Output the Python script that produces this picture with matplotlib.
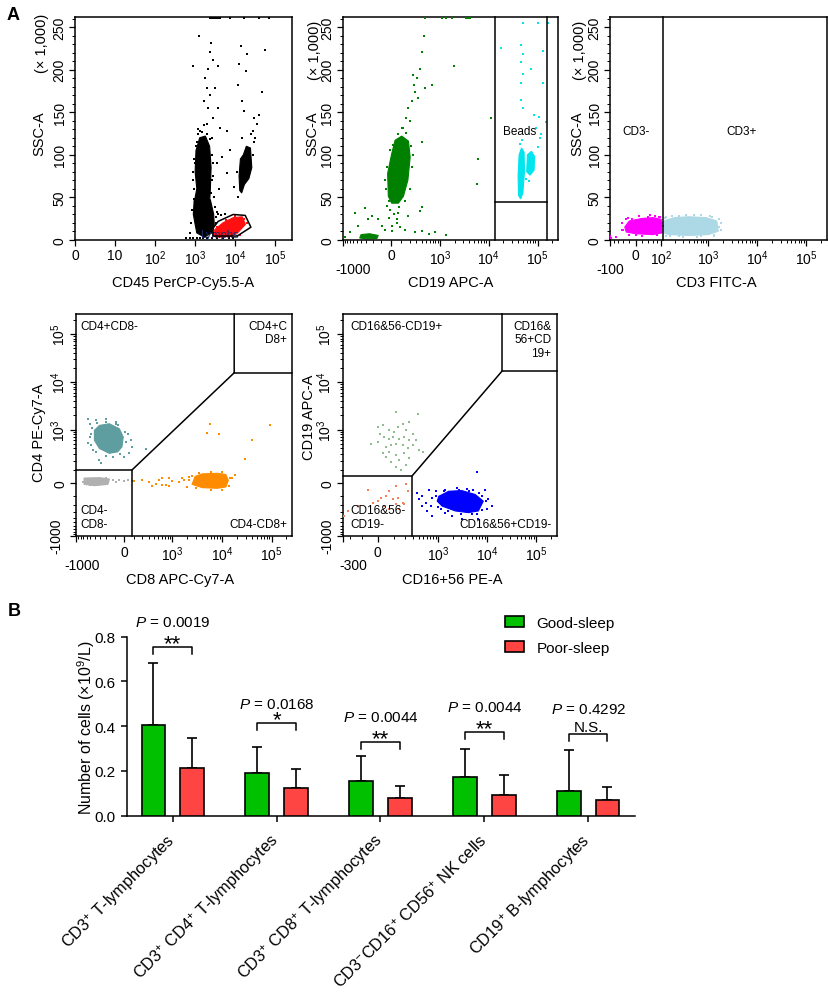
import numpy as np
import matplotlib
matplotlib.use("Agg")
import matplotlib.pyplot as plt
from matplotlib.patches import Patch

plt.rcParams['font.family'] = ['Liberation Sans', 'DejaVu Sans']
plt.rcParams['mathtext.fontset'] = 'custom'
plt.rcParams['mathtext.rm'] = 'Liberation Sans'
plt.rcParams['mathtext.it'] = 'Liberation Sans:italic'
plt.rcParams['mathtext.bf'] = 'Liberation Sans:bold'

FULL = 262144

# ---------------- panel A data ----------------
# panel 1: CD45 vs SSC (SSC in thousands)
p1_core_x = [1100, 1000, 1050, 1300, 1800, 2300, 2500, 2400, 2300, 950]
p1_core_y = [60, 80, 105, 120, 122, 110, 85, 60, 44, 44]
p1_low_x = [950, 900, 1000, 1100, 1700, 2600, 3000, 2900, 2400]
p1_low_y = [47, 30, 18, 8, 3, 8, 18, 30, 47]
p1_col_x = [13000, 12500, 13500, 16000, 19000, 24000, 26000, 22000, 17000, 14500]
p1_col_y = [58, 75, 95, 100, 110, 108, 85, 72, 65, 55]
p1_pts_x = [1260, 870, 2290, 2460, 2150, 2870, 3830, 1780, 1960, 2370, 3160, 1620, 2150, 3830,
            2870, 1960, 4220, 6190, 1330, 7500, 6190, 9100, 4640, 12100, 13800, 19500, 18500,
            11500, 14700, 16200, 56000, 48000, 28700, 34800, 31600, 38300, 27700,
            900, 950, 2700, 2800, 2600, 1200, 1700, 3500, 4000, 3000, 12000, 11000, 28000,
            30000, 25000, 15000,
            950, 1000, 1050, 1200, 1500, 2000, 2600, 2700, 2500, 950, 1100, 2400, 900, 2800,
            850, 800, 1300, 1400, 1500, 1600, 3300, 3800, 4500, 5500, 3200, 3500, 750, 3400,
            600, 750, 900, 1100, 1300, 1600, 2000, 2600, 3500, 5000, 7000, 9000,
            2300, 2600, 2900, 3300, 3700, 4200, 7500, 16200, 38300, 68000]
p1_pts_y = [240, 205, 221, 232, 201, 211, 205, 190, 178, 170, 178, 163, 155, 155,
            143, 136, 132, 128, 128, 105, 78, 62, 97, 207, 228, 219, 198,
            182, 163, 151, 223, 174, 143, 136, 120, 147, 128,
            70, 95, 100, 75, 120, 130, 135, 90, 60, 50, 50, 80, 100,
            115, 125, 120,
            60, 90, 110, 125, 127, 125, 100, 70, 55, 48, 115, 118, 80, 90,
            35, 20, 50, 52, 49, 51, 27, 30, 29, 30, 38, 33, 8, 20,
            1.5, 1.5, 1.5, 1.5, 1.5, 1.5, 1.5, 1.5, 1.5, 1.5, 1.5, 1.5,
            261, 261, 261, 261, 261, 261, 261, 261, 261, 261]
p1_red_x = [3000, 3100, 5000, 9000, 15000, 18000, 12000, 8000, 4000]
p1_red_y = [4, 12, 20, 26, 27, 18, 9, 4, 3]
p1_redpts_x = [3500, 6000, 10000, 17000, 13000, 2900, 20000]
p1_redpts_y = [15, 23, 28, 24, 6, 8, 20]
p1_gate_x = [2800, 3760, 8900, 17800, 24700, 11200, 2800, 2800]
p1_gate_y = [13.5, 21.6, 29.7, 28.6, 14.7, 4.3, 4.3, 13.5]

# panel 2: CD19 vs SSC
p2_core_x = [-29, -36, 3, 36, 104, 183, 205, 175, 122, 69, 3]
p2_core_y = [51, 78, 101, 117, 122, 116, 97, 70, 51, 43, 43]
p2_low_x = [-430, -400, -250, -134, -150, -300]
p2_low_y = [2, 6, 7, 5, 1.5, 1]
p2_pts_x = [443, 406, 371, 309, 254, 281, 229, 183, 150, 122, 337, 483, 239, 205, 680, 104,
            1980, 11000, 6160, 5670, 418, 406,
            -988, -555, -327, -219, -134, -97, -62, -270, -467, -710, -910,
            141, 281, 406, 573, 795, 1300, 371, 183, 69, 52, 3,
            -10, 30, 50, -20, 10, 70, -40, -60, 90,
            -50, -45, -10, 20, 60, 150, 220, 230, 200, 140, -20, 250, -60,
            483, 1100, 1300, 1780, 3400, 3700, 4000, 4200]
p2_pts_y = [240, 221, 201, 190, 182, 174, 163, 155, 143.5, 132, 167, 178, 194, 140, 182, 132,
            205, 143.5, 95, 66, 115, 39,
            30, 32, 37, 28, 24, 16, 12, 24, 16, 8.5, 2.7,
            12, 8.5, 10, 6.6, 8.5, 5.4, 33.6, 27.8, 31.6, 24, 16,
            35, 30, 20, 25, 10, 38, 40, 12, 15,
            60, 85, 105, 112, 124, 126, 110, 85, 60, 45, 45, 100, 70,
            261, 261, 261, 261, 261, 261, 261, 261]
p2_beadA_x = [41000, 40000, 42000, 47000, 53000, 54000, 50000, 45000]
p2_beadA_y = [52, 75, 100, 108, 103, 80, 55, 48]
p2_beadB_x = [60000, 62000, 75000, 87000, 85000, 70000]
p2_beadB_y = [80, 100, 104, 98, 82, 76]
p2_bpts_x = [17700, 45900, 49600, 45900, 73900, 132000, 45900, 49600, 132000, 45900, 49600,
             86500, 106000, 93700, 118000, 150000, 110000, 43700, 48100, 101000, 86500,
             162000, 101000, 49600, 58000, 68000]
p2_bpts_y = [226, 229, 219, 209, 201, 222, 184, 195, 184, 165, 155,
             147, 145, 132, 124, 138, 120, 113, 117, 109, 94,
             255, 255, 255, 71, 69]

# panel 3: CD3 vs SSC
p3_neg_x = [-35, -20, 20, 60, 100, 105, 60, 0, -30]
p3_neg_y = [15, 22, 25, 26, 24, 8, 6, 7, 9]
p3_npts_x = [-101, -95, -68, -40, -45, -25, 70, 90, 105, 40, 0, -10, 80,
             -45, -30, 10, 50, 95, 108, 80, 20, -20]
p3_npts_y = [4.6, 2, 2.7, 12, 20, 26, 28, 27, 20, 27, 5, 24, 5,
             12, 24, 28, 28.5, 27, 16, 5, 4.5, 6]
p3_pos_x = [115, 115, 200, 400, 900, 1500, 1600, 1000, 400, 150]
p3_pos_y = [8, 22, 26, 27, 26, 22, 10, 6, 5, 6]
p3_ppts_x = [130, 160, 250, 300, 500, 700, 1100, 1300, 1700, 1800, 250, 600,
             120, 180, 350, 700, 1200, 1700, 1800, 1300, 700, 300, 130]
p3_ppts_y = [27, 4, 28, 3, 29, 28.5, 28, 4, 15, 20, 4, 3.5,
             26, 28, 29, 28.5, 27, 24, 12, 5, 4, 3.5, 4]

# panel 4: CD8 vs CD4
p4_cd4_x = [-404, -307, -162, -50, -10, -23, -66, -162, -307, -404]
p4_cd4_y = [967, 1229, 1333, 1049, 700, 426, 330, 304, 392, 595]
p4_cd4pts_x = [-566, -518, -367, -205, -85, 33, 66, 77, 50, 0, -117, -307, -279, -518, -566,
               -440, 254, -85,
               -480, -450, -350, -200, -60, 10, 20, -40, -200, -380, -470]
p4_cd4pts_y = [1694, 1333, 1561, 1694, 1440, 826, 595, 426, 304, 253, 253, 209, 170, 700, 507,
               361, 392, 1333,
               800, 1100, 1400, 1450, 1250, 900, 550, 300, 260, 330, 480]
p4_dn_x = [-680, -300, -160, -180, -400, -680]
p4_dn_y = [37, 40, 30, -10, -20, -10]
p4_dnpts_x = [-720, -600, -500, -200, -120, -80, -50, 0, 40, 80]
p4_dnpts_y = [10, 30, -15, 35, 20, 10, 25, 15, 20, 12]
p4_cd8_x = [2900, 4000, 8000, 12000, 13500, 12000, 8000, 4000, 2500]
p4_cd8_y = [50, 70, 75, 65, 20, -30, -40, -35, -10]
p4_cd8pts_x = [103, 205, 307, 440, 518, 612, 720, 845, 987, 1350, 1704, 367, 612, 845,
               5845, 5015, 8580, 29300, 39800, 92600, 15800, 18500, 13600, 2000, 2200, 1600,
               2500, 3500, 6000, 10000, 14500, 14000, 10000, 6000, 3000, 2200]
p4_cd8pts_y = [12, 24, 5, -5, 24, 37, -12, -25, 12, 5, 24, -25, -12, 37,
               1333, 848, 798, 217, 615, 1229, 37, 62, -25, -30, 45, 40,
               55, 80, 90, 85, 40, -20, -50, -55, -40, 20]

# panel 5: CD16+56 vs CD19
p5_b_x = [115, 376, 1, 28, 68, 129, 173, 248, 207, 296, -37, 1, 38, 68, 91, 142, 189, 248, 48,
          80, 115, 173, 296, 414, 28, 68, 115, 189, 142, 248, 115, 157, 80, 350, 484, 10, 103,
          228, 48, 207]
p5_b_y = [2317, 2150, 1133, 1230, 970, 1133, 1333, 1440, 970, 810, 500, 549, 700, 645, 700,
          645, 700, 595, 426, 465, 500, 465, 465, 360, 305, 330, 280, 305, 205, 228, 135, 105,
          189, 595, 330, 810, 891, 395, 253, 150]
p5_dn_x = [207, 228, 115, 68, 48, 91, 129, 173, 19, 1, 38, 68, 142, 189, -127, -227, -285,
           -28, 115, -57]
p5_dn_y = [-7, -63, -25, -63, -106, -136, -121, -170, -121, -153, -210, -253, -253, -190,
           -210, -275, -364, -170, -190, -50]
p5_nk_x = [1041, 1664, 3077, 5730, 8400, 6670, 4200, 2266, 1218, 966]
p5_nk_y = [-106, -63, -58, -90, -153, -277, -304, -277, -210, -153]
p5_nkpts_x = [375, 413, 475, 571, 653, 707, 763, 602, 895, 1128, 1422, 1944, 3077, 6170, 6670,
              7780, 10600, 12360, 9790, 6170, 4200, 2640, 1422, 763, 475, 9060, 5300,
              900, 1300, 2500, 4000, 7000, 9500, 8000, 5000, 3000, 1600, 1000]
p5_nkpts_y = [-76, -136, -106, -170, -50, -210, -121, -277, -63, -253, -304, -364, -429, -334,
              -429, -106, -136, -210, -253, 90, -63, -50, -50, -364, -210, -50, -50,
              -100, -60, -40, -45, -80, -150, -260, -330, -320, -280, -220]

# ---------------- panel B data ----------------
cell_types = ['CD3$^{+}$ T-lymphocytes',
              'CD3$^{+}$ CD4$^{+}$ T-lymphocytes',
              'CD3$^{+}$ CD8$^{+}$ T-lymphocytes',
              'CD3$^{-}$CD16$^{+}$ CD56$^{+}$ NK cells',
              'CD19$^{+}$ B-lymphocytes']
good_mean = [0.407, 0.191, 0.156, 0.172, 0.109]
good_sd = [0.276, 0.115, 0.112, 0.126, 0.183]
poor_mean = [0.215, 0.122, 0.078, 0.092, 0.069]
poor_sd = [0.132, 0.085, 0.056, 0.090, 0.061]
p_values = ['0.0019', '0.0168', '0.0044', '0.0044', '0.4292']
signif = ['**', '*', '**', '**', 'N.S.']
bracket_y = [0.752, 0.414, 0.328, 0.373, 0.364]


def asinh_scale(c):
    ln10 = np.log(10)

    def fwd(v):
        return np.arcsinh(np.asarray(v, float) / c) / ln10

    def inv(v):
        return c * np.sinh(np.asarray(v, float) * ln10)
    return fwd, inv


def log_minor(neg_lo):
    ticks = [-k for k in range(100, neg_lo + 1, 100)] + [0]
    for dec in [100, 1000, 10000]:
        ticks += [k * dec for k in range(1, 10)]
    ticks += [100000, 200000]
    return ticks


def style_flow(ax):
    for sp in ax.spines.values():
        sp.set_linewidth(1.1)
    ax.tick_params(which='major', direction='out', length=4, width=0.9, labelsize=10, pad=2)
    ax.tick_params(which='minor', direction='out', length=2.3, width=0.7)


def dots(ax, x, y, col, s=3, z=3):
    ax.scatter(x, y, s=s, marker='s', c=col, linewidths=0, zorder=z)


def blob(ax, x, y, col, z=2):
    ax.fill(x, y, color=col, lw=0.8, zorder=z)


def low_label_x(ax, text, xa, ya=-0.132):
    # the negative end label of a flow axis sits one line lower than the others
    ax.text(xa, ya, text, transform=ax.transAxes, ha='center', va='center', fontsize=10)


def low_label_y(ax, text, xa, ya=0.004):
    ax.text(xa, ya, text, transform=ax.transAxes, ha='center', va='center', fontsize=10,
            rotation=90)


def top_row_y(ax, lab_x, cap_y):
    ax.set_ylim(0, FULL / 1000)
    ax.set_yticks([0, 50, 100, 150, 200, 250], ['0', '50', '100', '150', '200', '250'],
                  rotation=90, va='center')
    ax.set_yticks(np.arange(10, 262, 10), minor=True)
    ax.set_ylabel('SSC-A', fontsize=10.5)
    ax.yaxis.set_label_coords(lab_x, 0.48)
    ax.text(lab_x - 0.02, cap_y, '(× 1,000)', transform=ax.transAxes, rotation=90,
            ha='center', va='center', fontsize=10.5)


def gate(ax, x, y):
    ax.plot(x, y, color='black', lw=1.1, zorder=4, clip_on=False)


fig = plt.figure(figsize=(8.29, 9.95), dpi=100)
W, H = 829, 995


def rect(l, r, t, b):
    return [l / W, 1 - b / H, (r - l) / W, (b - t) / H]


# ---- panel 1 ----
ax1 = fig.add_axes(rect(75, 292, 18, 240.7))
style_flow(ax1)
ax1.set_xscale('log')
ax1.set_xlim(1, FULL)
ax1.set_xticks([1, 10, 100, 1e3, 1e4, 1e5], ['0', '10', '10$^2$', '10$^3$', '10$^4$', '10$^5$'])
top_row_y(ax1, -0.13, 0.886)
blob(ax1, p1_core_x, p1_core_y, 'black')
blob(ax1, p1_low_x, p1_low_y, 'black')
blob(ax1, p1_col_x, p1_col_y, 'black')
dots(ax1, p1_pts_x, p1_pts_y, 'black')
blob(ax1, p1_red_x, p1_red_y, '#ff1010', z=3)
dots(ax1, p1_redpts_x, p1_redpts_y, '#ff1010')
ax1.text(12500, 7, 'Lymphs', ha='right', va='center', fontsize=8, color='#1a2a6a', zorder=3.5)
gate(ax1, p1_gate_x, p1_gate_y)
ax1.set_xlabel('CD45 PerCP-Cy5.5-A', fontsize=10.5)
ax1.xaxis.set_label_coords(0.5, -0.16)

# ---- panel 2 ----
ax2 = fig.add_axes(rect(342.7, 558, 18, 240.7))
style_flow(ax2)
ax2.set_xscale('function', functions=asinh_scale(204))
ax2.set_xlim(-1000, FULL)
ax2.set_xticks([-1000, 0, 1e3, 1e4, 1e5], ['', '0', '10$^3$', '10$^4$', '10$^5$'])
ax2.set_xticks(log_minor(900), minor=True)
low_label_x(ax2, '-1000', 0.048)
top_row_y(ax2, -0.11, 0.856)
blob(ax2, p2_core_x, p2_core_y, '#008000')
blob(ax2, p2_low_x, p2_low_y, '#008000')
dots(ax2, p2_pts_x, p2_pts_y, '#008000')
blob(ax2, p2_beadA_x, p2_beadA_y, '#00e5ee')
blob(ax2, p2_beadB_x, p2_beadB_y, '#00e5ee')
dots(ax2, p2_bpts_x, p2_bpts_y, '#00e5ee')
gate(ax2, [13400, 13400], [0, FULL / 1000])
gate(ax2, [158000, 158000], [0, FULL / 1000])
gate(ax2, [13400, 158000], [44, 44])
ax2.text(42400, 128, 'Beads', ha='center', va='center', fontsize=8.5)
ax2.set_xlabel('CD19 APC-A', fontsize=10.5)
ax2.xaxis.set_label_coords(0.5, -0.16)

# ---- panel 3 ----
ax3 = fig.add_axes(rect(610, 826.7, 18, 240.7))
style_flow(ax3)
ax3.set_xscale('function', functions=asinh_scale(66))
ax3.set_xlim(-100, FULL)
ax3.set_xticks([-100, 0, 100, 1e3, 1e4, 1e5], ['', '0', '10$^2$', '10$^3$', '10$^4$', '10$^5$'])
ax3.set_xticks([-80, -60, -40, -20, 20, 40, 60, 80] + log_minor(0)[1:], minor=True)
low_label_x(ax3, '-100', 0.0)
top_row_y(ax3, -0.12, 0.856)
blob(ax3, p3_neg_x, p3_neg_y, '#ff00ff')
dots(ax3, p3_npts_x, p3_npts_y, '#ff00ff')
blob(ax3, p3_pos_x, p3_pos_y, '#add8e6')
dots(ax3, p3_ppts_x, p3_ppts_y, '#add8e6')
gate(ax3, [110, 110], [0, FULL / 1000])
ax3.text(0, 128, 'CD3-', ha='center', va='center', fontsize=8.5)
ax3.text(4740, 128, 'CD3+', ha='center', va='center', fontsize=8.5)
ax3.set_xlabel('CD3 FITC-A', fontsize=10.5)
ax3.xaxis.set_label_coords(0.49, -0.16)


def bottom_row_axes(ax, cx, x_lo):
    style_flow(ax)
    ax.set_xscale('function', functions=asinh_scale(cx))
    ax.set_yscale('function', functions=asinh_scale(155))
    ax.set_xlim(x_lo, FULL)
    ax.set_ylim(-1000, FULL)
    ax.set_xticks([x_lo, 0, 1e3, 1e4, 1e5], ['', '0', '10$^3$', '10$^4$', '10$^5$'])
    ax.set_xticks(log_minor(-x_lo - 100 if x_lo < -100 else 0), minor=True)
    ax.set_yticks([-1000, 0, 1e3, 1e4, 1e5], ['', '0', '10$^3$', '10$^4$', '10$^5$'],
                  rotation=90, va='center')
    ax.set_yticks(log_minor(900), minor=True)


# ---- panel 4 ----
ax4 = fig.add_axes(rect(76, 292.3, 315, 537.3))
bottom_row_axes(ax4, 216, -1000)
low_label_x(ax4, '-1000', 0.028, -0.129)
low_label_y(ax4, '-1000', -0.092)
blob(ax4, p4_cd4_x, p4_cd4_y, '#5f9ea0')
dots(ax4, p4_cd4pts_x, p4_cd4pts_y, '#5f9ea0')
blob(ax4, p4_dn_x, p4_dn_y, '#b0b0b0')
dots(ax4, p4_dnpts_x, p4_dnpts_y, '#b0b0b0')
blob(ax4, p4_cd8_x, p4_cd8_y, '#ff8c00')
dots(ax4, p4_cd8pts_x, p4_cd8pts_y, '#ff8c00')
gate(ax4, [-1000, 80, 80], [104, 104, -1000])
gate(ax4, [80, 17700, 17700], [104, 15500, FULL])
gate(ax4, [17700, FULL], [15500, 15500])
ax4.text(0.018, 0.975, 'CD4+CD8-', transform=ax4.transAxes, ha='left', va='top', fontsize=8.5)
ax4.text(0.975, 0.975, 'CD4+C\nD8+', transform=ax4.transAxes, ha='right', va='top',
         fontsize=8.5, multialignment='right')
ax4.text(0.018, 0.03, 'CD4-\nCD8-', transform=ax4.transAxes, ha='left', va='bottom', fontsize=8.5)
ax4.text(0.975, 0.03, 'CD4-CD8+', transform=ax4.transAxes, ha='right', va='bottom', fontsize=8.5)
ax4.set_xlabel('CD8 APC-Cy7-A', fontsize=10.5)
ax4.xaxis.set_label_coords(0.48, -0.16)
ax4.set_ylabel('CD4 PE-Cy7-A', fontsize=10.5)
ax4.yaxis.set_label_coords(-0.14, 0.47)

# ---- panel 5 ----
ax5 = fig.add_axes(rect(342.7, 556.7, 315, 537.3))
bottom_row_axes(ax5, 120, -300)
low_label_x(ax5, '-300', 0.051, -0.13)
low_label_y(ax5, '-1000', -0.07)
dots(ax5, p5_b_x, p5_b_y, '#8fbc8f')
dots(ax5, p5_dn_x, p5_dn_y, '#f4805a')
blob(ax5, p5_nk_x, p5_nk_y, '#0000ff')
dots(ax5, p5_nkpts_x, p5_nkpts_y, '#0000ff')
gate(ax5, [-300, 292, 292], [57, 57, -1000])
gate(ax5, [292, 20200, 20200], [57, 16800, FULL])
gate(ax5, [20200, FULL], [16800, 16800])
ax5.text(0.035, 0.975, 'CD16&56-CD19+', transform=ax5.transAxes, ha='left', va='top', fontsize=8.5)
ax5.text(0.975, 0.975, 'CD16&\n56+CD\n19+', transform=ax5.transAxes, ha='right', va='top',
         fontsize=8.5, multialignment='right')
ax5.text(0.035, 0.03, 'CD16&56-\nCD19-', transform=ax5.transAxes, ha='left', va='bottom',
         fontsize=8.5)
ax5.text(0.975, 0.03, 'CD16&56+CD19-', transform=ax5.transAxes, ha='right', va='bottom',
         fontsize=8.5)
ax5.set_xlabel('CD16+56 PE-A', fontsize=10.5)
ax5.xaxis.set_label_coords(0.51, -0.16)
ax5.set_ylabel('CD19 APC-A', fontsize=10.5)
ax5.yaxis.set_label_coords(-0.125, 0.54)

fig.text(7 / W, 1 - 16 / H, 'A', fontsize=13, fontweight='bold', va='center')
fig.text(8 / W, 1 - 611 / H, 'B', fontsize=13, fontweight='bold', va='center')

# ---------------- panel B: bar chart ----------------
axb = fig.add_axes(rect(127, 635, 637.7, 816.7))
xg = np.arange(len(cell_types))
bw, off = 0.23, 0.185
axb.bar(xg - off, good_mean, bw, color='#00c000', edgecolor='black', linewidth=1.2, zorder=3,
        label='Good-sleep')
axb.bar(xg + off, poor_mean, bw, color='#ff4444', edgecolor='black', linewidth=1.2, zorder=3,
        label='Poor-sleep')
axb.errorbar(xg - off, good_mean, yerr=[np.zeros(5), good_sd], fmt='none', ecolor='black',
             elinewidth=1.2, capsize=3.3, capthick=1.2, zorder=2)
axb.errorbar(xg + off, poor_mean, yerr=[np.zeros(5), poor_sd], fmt='none', ecolor='black',
             elinewidth=1.2, capsize=3.3, capthick=1.2, zorder=2)

for i in range(len(cell_types)):
    by = bracket_y[i]
    axb.plot([i - off, i - off, i + off, i + off], [by - 0.031, by, by, by - 0.031],
             color='black', lw=1.1, clip_on=False)
    if signif[i] == 'N.S.':
        axb.annotate(signif[i], (i, by), xytext=(0, 2), textcoords='offset points',
                     ha='center', va='baseline', fontsize=11, annotation_clip=False)
    else:
        axb.annotate(signif[i], (i, by), xytext=(0, -1.5), textcoords='offset points',
                     ha='center', va='baseline', fontsize=16, annotation_clip=False)
    p_off = 14 if signif[i] == '*' else 18
    axb.annotate('$P$ = ' + p_values[i], (i, by), xytext=(0, p_off), textcoords='offset points',
                 ha='center', va='center', fontsize=11, annotation_clip=False)

axb.set_xlim(-0.44, 4.45)
axb.set_ylim(0, 0.8)
axb.set_yticks([0, 0.2, 0.4, 0.6, 0.8], ['0.0', '0.2', '0.4', '0.6', '0.8'])
axb.set_xticks(xg, cell_types, rotation=45, ha='right', va='center', rotation_mode='anchor',
               fontsize=11.8)
axb.tick_params(axis='both', direction='out', length=4.5, width=1.1)
axb.tick_params(axis='y', labelsize=11)
axb.tick_params(axis='x', pad=11)
for s in ['top', 'right']:
    axb.spines[s].set_visible(False)
for s in ['left', 'bottom']:
    axb.spines[s].set_linewidth(1.1)
axb.set_ylabel('Number of cells (×10$^9$/L)', fontsize=11.5)
axb.yaxis.set_label_coords(-0.06, 0.5)

handles = [Patch(facecolor='#00c000', edgecolor='black', linewidth=1.2, label='Good-sleep'),
           Patch(facecolor='#ff4444', edgecolor='black', linewidth=1.2, label='Poor-sleep')]
axb.legend(handles=handles, loc='upper left', bbox_to_anchor=(0.744, 1.118), frameon=False,
           fontsize=11, borderpad=0, borderaxespad=0, handlelength=1.25, handleheight=0.75,
           handletextpad=0.8, labelspacing=0.75)

fig.savefig('out.png', dpi=100)
